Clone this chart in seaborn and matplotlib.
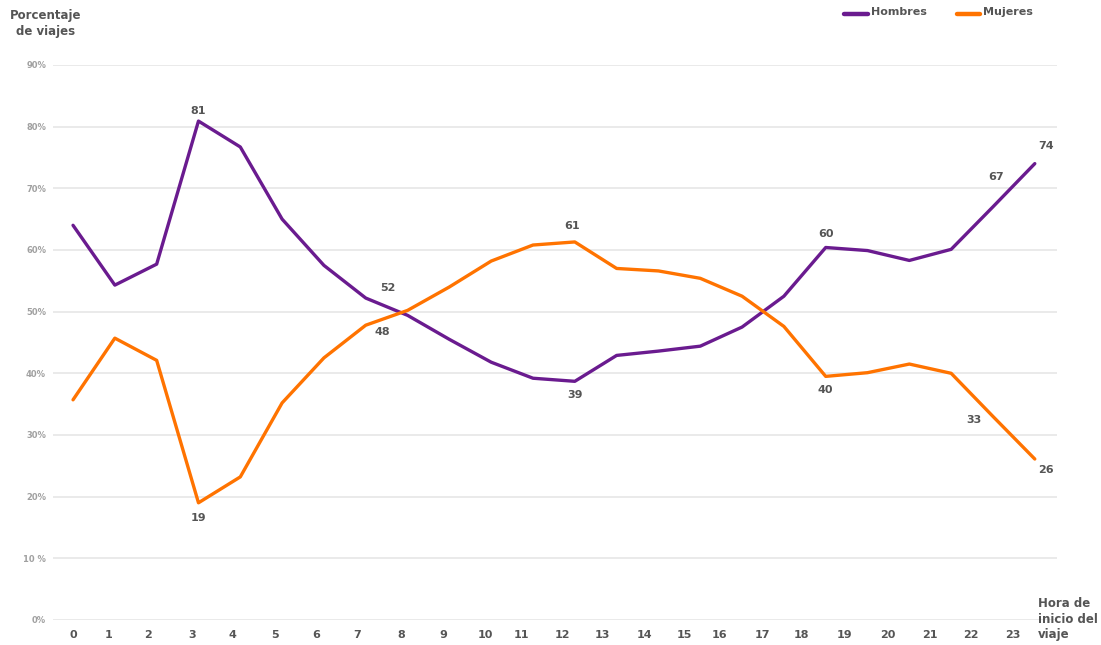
import pandas as pd
import matplotlib.pyplot as plt
import seaborn as sns

# Hourly share of trips by sex
hours = list(range(24))
hombres = [64.0, 54.3, 57.7, 80.9, 76.7, 65.0, 57.5, 52.2, 49.4, 45.5, 41.8, 39.2,
           38.7, 42.9, 43.6, 44.4, 47.5, 52.5, 60.4, 59.9, 58.3, 60.1, 67.0, 74.0]
mujeres = [35.7, 45.7, 42.1, 19.0, 23.2, 35.2, 42.5, 47.8, 50.2, 54.0, 58.2, 60.8,
           61.3, 57.0, 56.6, 55.4, 52.5, 47.6, 39.5, 40.1, 41.5, 40.0, 33.0, 26.1]

# highlighted values: (hour, series, label, dx px, dy px)
annotations = [
    (3, "Hombres", "81", 0, 10), (7, "Hombres", "52", 22, 10), (12, "Hombres", "39", 0, -14),
    (18, "Hombres", "60", 0, 13), (22, "Hombres", "67", 3, 30), (23, "Hombres", "74", 11, 18),
    (3, "Mujeres", "19", 0, -15), (7, "Mujeres", "48", 17, -7), (12, "Mujeres", "61", -3, 16),
    (18, "Mujeres", "40", 0, -14), (22, "Mujeres", "33", -19, -4), (23, "Mujeres", "26", 11, -11),
]

# x tick labels sit slightly off the data points in the original
tick_pos = [0, 0.86, 1.79, 2.85, 3.82, 4.83, 5.81, 6.79, 7.84, 8.85, 9.85, 10.73,
            11.71, 12.67, 13.67, 14.63, 15.47, 16.49, 17.43, 18.45, 19.48, 20.49, 21.47, 22.47]
tick_labels = [str(h) for h in hours]
y_ticks = [0, 10, 20, 30, 40, 50, 60, 70, 80, 90]
y_labels = ["0%", "10 %", "20%", "30%", "40%", "50%", "60%", "70%", "80%", "90%"]

colors = {"Hombres": "#6a1b8f", "Mujeres": "#ff7300"}
text_gray = "#555555"

df = pd.DataFrame({
    "hora": hours * 2,
    "pct": hombres + mujeres,
    "sexo": ["Hombres"] * 24 + ["Mujeres"] * 24,
})

sns.set_style("white")
plt.rcParams["font.family"] = ["DejaVu Sans"]

fig = plt.figure(figsize=(11.01, 6.45), dpi=100)
ax = fig.add_axes([0.0481, 0.0388, 0.9119, 0.8605])

sns.lineplot(data=df, x="hora", y="pct", hue="sexo", palette=colors,
             linewidth=2.4, ax=ax, legend=False, zorder=3)

lookup = {"Hombres": hombres, "Mujeres": mujeres}
for h, s, lab, dx, dy in annotations:
    ax.annotate(lab, (h, lookup[s][h]), xytext=(dx * 0.72, dy * 0.72),
                textcoords="offset points", ha="center", va="center",
                fontsize=8, fontweight="bold", color=text_gray)

ax.set_xlim(-0.48, 23.53)
ax.set_ylim(0, 90)
ax.set_yticks(y_ticks)
ax.set_yticklabels(y_labels, fontsize=6, color="#a0a0a0", fontweight="bold")
ax.set_xticks(tick_pos)
ax.set_xticklabels(tick_labels, fontsize=8, fontweight="bold", color=text_gray)
ax.tick_params(axis="both", length=0)
ax.tick_params(axis="y", pad=5)
ax.tick_params(axis="x", pad=7)
ax.yaxis.grid(True, color="#e8e8e8", linewidth=1.3)
ax.set_axisbelow(True)
ax.set_xlabel("")
ax.set_ylabel("")
for sp in ax.spines.values():
    sp.set_visible(False)

# titles
fig.text(0.041, 0.963, "Porcentaje\nde viajes", ha="center", va="center",
         fontsize=8.5, fontweight="bold", color=text_gray, linespacing=1.3)
fig.text(0.943, 0.04, "Hora de\ninicio del\nviaje", ha="left", va="center",
         fontsize=8.5, fontweight="bold", color=text_gray, linespacing=1.25)

# legend drawn by hand at the top right
for x0, name in [(0.767, "Hombres"), (0.869, "Mujeres")]:
    fig.add_artist(plt.Line2D([x0, x0 + 0.021], [0.979, 0.979], color=colors[name],
                              linewidth=3.2, transform=fig.transFigure))
    fig.text(x0 + 0.024, 0.981, name, ha="left", va="center", fontsize=8,
             fontweight="bold", color=text_gray)

plt.savefig("out.png", dpi=100)
plt.close()
